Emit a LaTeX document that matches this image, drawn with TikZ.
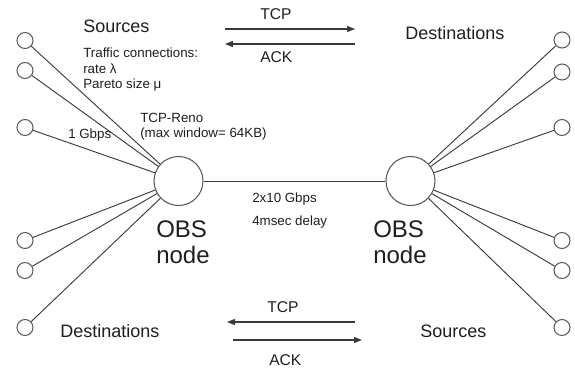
\documentclass[tikz,border=0pt]{standalone}
\usepackage{fontspec}
\setmainfont{Liberation Sans}
\usetikzlibrary{arrows.meta}
\definecolor{txt}{HTML}{1E1E1E}
\definecolor{ln}{HTML}{3A3A3A}
\definecolor{cs}{HTML}{5A5A5A}
\tikzset{
  obs/.style={circle,draw=cs,line width=0.8pt,minimum size=36.75pt,inner sep=0pt},
  host/.style={circle,draw=cs,line width=0.8pt,minimum size=12pt,inner sep=0pt},
  link/.style={draw=ln,line width=0.7pt},
  arr/.style={draw=ln,line width=0.8pt,-{Triangle[length=6pt,width=4.5pt]}},
  lbl/.style={anchor=base west,inner sep=0pt,text=txt},
  big/.style={lbl,font=\fontsize{13.5}{16}\selectfont},
  huge/.style={lbl,font=\fontsize{18}{21}\selectfont},
  mid/.style={lbl,font=\fontsize{11.7}{14}\selectfont},
  small/.style={lbl,font=\fontsize{10}{12}\selectfont},
}
\begin{document}
\begin{tikzpicture}[x=0.75pt,y=-0.75pt]
\useasboundingbox (0,0) rectangle (575,371);
% OBS nodes
\node[obs] (L) at (178.5,181) {};
\node[obs] (R) at (410.5,181) {};
\draw[link] (L) -- (R);
% left hosts
\node[host] (l1) at (25,40.5) {};
\node[host] (l2) at (25,70.5) {};
\node[host] (l3) at (25,127.5) {};
\node[host] (l4) at (25,240.5) {};
\node[host] (l5) at (25,270.5) {};
\node[host] (l6) at (25,327.5) {};
% right hosts
\node[host] (r1) at (562,40) {};
\node[host] (r2) at (562,72) {};
\node[host] (r3) at (562,127.5) {};
\node[host] (r4) at (562,240.5) {};
\node[host] (r5) at (562,270.5) {};
\node[host] (r6) at (562,327.5) {};
\foreach \h in {l1,l2,l3,l4,l5,l6} \draw[link] (\h) -- (L);
\foreach \h in {r1,r2,r3,r4,r5,r6} \draw[link] (\h) -- (R);
% labels
\node[big] (src1) at (83,32) {Sources};
\node[small] (t1) at (83,57) {Traffic connections:};
\node[small] (t2) at (83,73) {rate λ};
\node[small] (t3) at (83,88.5) {Pareto size μ};
\node[small] (reno1) at (140,122) {TCP-Reno};
\node[small] (reno2) at (140,137.5) {(max window= 64KB)};
\node[small] (gb) at (68,138) {1 Gbps};
\node[big] (dst1) at (405,39.5) {Destinations};
\node[small] (bw) at (252,202) {2x10 Gbps};
\node[small] (dl) at (252,225.5) {4msec delay};
\node[huge] (obsL1) at (156,237) {OBS};
\node[huge] (obsL2) at (156,263) {node};
\node[huge] (obsR1) at (373,237) {OBS};
\node[huge] (obsR2) at (373,263) {node};
\node[big] (dst2) at (60,337) {Destinations};
\node[big] (src2) at (420,337) {Sources};
% top arrows
\node[mid] (tcp1) at (260,20) {TCP};
\node[mid] (ack1) at (260,62) {ACK};
\coordinate (a1s) at (225,29);
\coordinate (a1e) at (355,29);
\coordinate (a2s) at (355,44);
\coordinate (a2e) at (225,44);
\draw[arr] (a1s) -- (a1e);
\draw[arr] (a2s) -- (a2e);
% bottom arrows
\node[mid] (tcp2) at (267,312) {TCP};
\node[mid] (ack2) at (269,365) {ACK};
\coordinate (b1s) at (355,322);
\coordinate (b1e) at (227,322);
\coordinate (b2s) at (233,340);
\coordinate (b2e) at (362,340);
\draw[arr] (b1s) -- (b1e);
\draw[arr] (b2s) -- (b2e);
\end{tikzpicture}
\end{document}
